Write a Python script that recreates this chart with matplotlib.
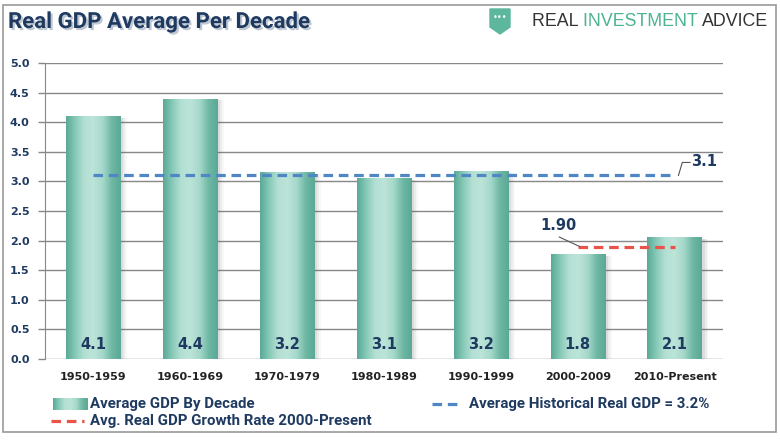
import numpy as np
import matplotlib
matplotlib.use('Agg')
import matplotlib.pyplot as plt
import matplotlib.patheffects as pe
from matplotlib.patches import Rectangle, Polygon
from matplotlib.colors import LinearSegmentedColormap

# chart data
decades = ['1950-1959', '1960-1969', '1970-1979', '1980-1989', '1990-1999', '2000-2009', '2010-Present']
gdp_avg = [4.1, 4.4, 3.16, 3.06, 3.18, 1.77, 2.06]
hist_avg = 3.1
recent_avg = 1.90
y_ticks = [0.0, 0.5, 1.0, 1.5, 2.0, 2.5, 3.0, 3.5, 4.0, 4.5, 5.0]

navy = '#1F3A60'
teal_cmap = LinearSegmentedColormap.from_list(
    'teal', ['#5AA896', '#86C9B7', '#B4E0D4', '#BCE4D9', '#A6D9CB', '#6FB8A4', '#5AA896'])

fig = plt.figure(figsize=(7.8, 4.4), dpi=100)
ax = fig.add_axes([45 / 780, 1 - 359 / 440, 678 / 780, 296 / 440])

x = np.arange(len(decades))
bw = 0.56
bars = ax.bar(x, gdp_avg, width=bw, color='none', edgecolor='none', zorder=3)
grad = np.linspace(0, 1, 256).reshape(1, -1)
for b in bars:
    x0, h = b.get_x(), b.get_height()
    # soft shadow to the right
    for i, a in enumerate([0.10, 0.07, 0.04]):
        ax.add_patch(Rectangle((x0 + 0.03 + i * 0.02, 0), bw, h - 0.03, color='#555555',
                               alpha=a, lw=0, zorder=2))
    im = ax.imshow(grad, extent=[x0, x0 + bw, 0, h], aspect='auto', cmap=teal_cmap, zorder=3)
    im.set_clip_path(b)

for xi, v in zip(x, gdp_avg):
    ax.text(xi, 0.25, f'{v:.1f}', ha='center', va='center', fontsize=10.5,
            fontweight='bold', color=navy, zorder=5)

# average lines
ax.plot([x[0], x[-1]], [hist_avg, hist_avg], ls=(0, (3, 1.8)), color='#4F86C6', lw=2.3, zorder=4)
ax.plot([x[5], x[-1]], [recent_avg, recent_avg], ls=(0, (3, 1.8)), color='#E8534A', lw=2.3, zorder=4)

ax.plot([x[-1] + 0.04, x[-1] + 0.08, x[-1] + 0.16], [hist_avg, hist_avg + 0.22, hist_avg + 0.22],
        color='#555555', lw=0.8, zorder=4)
ax.text(x[-1] + 0.17, hist_avg + 0.23, f'{hist_avg:.1f}', ha='left', va='center',
        fontsize=10.5, fontweight='bold', color=navy)
ax.plot([x[5] - 0.19, x[5] + 0.02], [recent_avg + 0.16, recent_avg], color='#555555', lw=0.8, zorder=4)
ax.text(x[5] - 0.2, recent_avg + 0.35, f'{recent_avg:.2f}', ha='center', va='center',
        fontsize=10.5, fontweight='bold', color=navy)

ax.set_xlim(-0.5, len(decades) - 0.5)
ax.set_ylim(0, 5.0)
ax.set_yticks(y_ticks)
ax.set_yticklabels([f'{t:.1f}' for t in y_ticks], fontsize=8, fontweight='bold', color=navy)
ax.set_xticks(x)
ax.set_xticklabels(decades, fontsize=8, fontweight='bold', color='#222222')
ax.tick_params(axis='x', length=0, pad=9)
ax.tick_params(axis='y', length=5, color='#888888', width=1, pad=6)
ax.grid(axis='y', color='#888888', lw=1, zorder=0)
for s in ['top', 'right', 'bottom']:
    ax.spines[s].set_visible(False)
ax.spines['left'].set_color('#888888')

# overlay axes in pixel coords for title, logo, legend
lg = fig.add_axes([0, 0, 1, 1], facecolor='none')

# title
lg.text(8, 22, 'Real GDP Average Per Decade', fontsize=16, fontweight='bold',
        color=navy, va='center', fontfamily='Roboto',
        path_effects=[pe.withSimplePatchShadow(offset=(1.5, -1.5), shadow_rgbFace='#8090A8', alpha=0.5)])

# logo
lg.add_patch(Polygon([[490, 9], [510, 9], [510, 27], [500, 34], [490, 27]], closed=True,
                     color='#5DB79C'))
lg.text(500, 18, '•••', color='white', fontsize=6, ha='center', va='center')
t1 = lg.text(532, 21, 'REAL ', fontsize=12.8, color='#333333', va='center', fontfamily='Liberation Sans')
fig.canvas.draw()
r = fig.canvas.get_renderer()
w1 = t1.get_window_extent(r).width
t2 = lg.text(532 + w1, 21, 'INVESTMENT ', fontsize=12.8, color='#4DB391', va='center',
             fontfamily='Liberation Sans')
w2 = t2.get_window_extent(r).width
lg.text(532 + w1 + w2, 21, 'ADVICE', fontsize=12.8, color='#333333', va='center',
        fontfamily='Liberation Sans')

# legend
leg_font = dict(fontsize=10.8, color=navy, va='center', fontfamily='Roboto', fontweight='bold')
lg.imshow(grad, extent=[53, 88, 410, 398], aspect='auto', cmap=teal_cmap)
lg.text(90, 404, 'Average GDP By Decade', **leg_font)
lg.plot([432, 462], [404, 404], ls=(0, (3, 1.8)), color='#4F86C6', lw=2.3)
lg.text(469, 404, 'Average Historical Real GDP = 3.2%', **leg_font)
lg.plot([51, 84], [421, 421], ls=(0, (3, 1.8)), color='#E8534A', lw=2.3)
lg.text(90, 421, 'Avg. Real GDP Growth Rate 2000-Present', **leg_font)
lg.add_patch(Rectangle((3, 5), 773, 427, fill=False, edgecolor='#999999', lw=1.2))
lg.set_xlim(0, 780)
lg.set_ylim(440, 0)
lg.axis('off')

fig.savefig('out.png', dpi=100)
